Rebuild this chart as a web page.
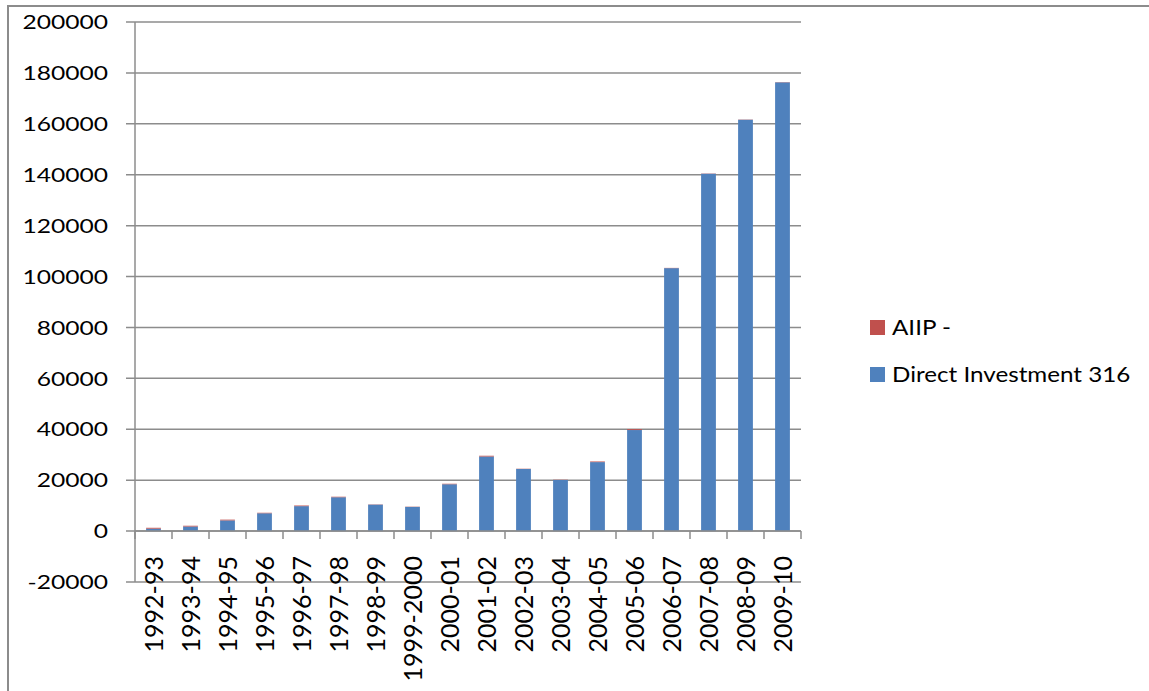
<!DOCTYPE html>
<html>
<head>
<meta charset="utf-8">
<script src="https://cdn.jsdelivr.net/npm/d3@7"></script>
<style>
  body { margin: 0; background: #fff; }
  svg { display: block; font-family: Lato, "Open Sans", sans-serif; }
</style>
</head>
<body>
<div id="chart"></div>
<script>
const years = [
  "1992-93", "1993-94", "1994-95", "1995-96", "1996-97", "1997-98",
  "1998-99", "1999-2000", "2000-01", "2001-02", "2002-03", "2003-04",
  "2004-05", "2005-06", "2006-07", "2007-08", "2008-09", "2009-10",
];
const directInvestment = [
  950, 1800, 4200, 7000, 9800, 13300, 10400, 9500, 18400, 29300,
  24400, 20100, 27100, 39700, 103300, 140400, 161600, 176300,
];
const aiip = [
  350, 300, 300, 200, 250, 200, 100, 100, 200, 300,
  100, 100, 250, 350, 100, 100, 100, 100,
];
const yTicks = d3.range(-20000, 200001, 20000);

const width = 1149;
const height = 691;
const margin = { top: 22, right: 348, bottom: 109, left: 135 };

const svg = d3
  .select("#chart")
  .append("svg")
  .attr("width", width)
  .attr("height", height);

// outer chart frame (runs off the right and bottom edges)
svg
  .append("rect")
  .attr("x", 8)
  .attr("y", 6)
  .attr("width", width + 20)
  .attr("height", height + 20)
  .attr("fill", "none")
  .attr("stroke", "#8c8c8c")
  .attr("stroke-width", 2);

const x = d3
  .scaleBand()
  .domain(years)
  .range([margin.left, width - margin.right])
  .paddingInner(0.6)
  .paddingOuter(0.3);

const y = d3
  .scaleLinear()
  .domain([-20000, 200000])
  .range([height - margin.bottom, margin.top]);

const gridColor = "#8c8c8c";

// gridlines + left ticks
svg
  .append("g")
  .selectAll("line")
  .data(yTicks)
  .join("line")
  .attr("x1", margin.left - 9)
  .attr("x2", width - margin.right)
  .attr("y1", (d) => y(d))
  .attr("y2", (d) => y(d))
  .attr("stroke", gridColor)
  .attr("stroke-width", 1.5);

// y labels (glyphs a bit wider than tall in the original, hence the scale)
svg
  .append("g")
  .selectAll("text")
  .data(yTicks)
  .join("text")
  .attr("transform", (d) => `translate(108, ${y(d)}) scale(1.23, 1)`)
  .attr("dy", "0.36em")
  .attr("text-anchor", "end")
  .attr("font-size", 20)
  .attr("fill", "#000")
  .text((d) => d);

// vertical axis
svg
  .append("line")
  .attr("x1", margin.left)
  .attr("x2", margin.left)
  .attr("y1", y(200000))
  .attr("y2", y(-20000))
  .attr("stroke", gridColor)
  .attr("stroke-width", 1.5);

// stacked bars
const stackData = years.map((yr, i) => ({
  year: yr,
  di: directInvestment[i],
  aiip: aiip[i],
}));

svg
  .append("g")
  .selectAll("rect")
  .data(stackData)
  .join("rect")
  .attr("x", (d) => x(d.year))
  .attr("width", x.bandwidth())
  .attr("y", (d) => y(d.di))
  .attr("height", (d) => y(0) - y(d.di))
  .attr("fill", "#4f81bd");

svg
  .append("g")
  .selectAll("rect")
  .data(stackData)
  .join("rect")
  .attr("x", (d) => x(d.year))
  .attr("width", x.bandwidth())
  .attr("y", (d) => y(d.di + d.aiip))
  .attr("height", (d) => y(d.di) - y(d.di + d.aiip))
  .attr("fill", "#c0504d");

// zero axis with category boundary ticks
const step = x.step();
const bounds = d3.range(years.length + 1).map((i) => margin.left + i * step);

svg
  .append("line")
  .attr("x1", margin.left)
  .attr("x2", width - margin.right)
  .attr("y1", y(0))
  .attr("y2", y(0))
  .attr("stroke", gridColor)
  .attr("stroke-width", 1.5);

svg
  .append("g")
  .selectAll("line")
  .data(bounds)
  .join("line")
  .attr("x1", (d) => d)
  .attr("x2", (d) => d)
  .attr("y1", y(0))
  .attr("y2", y(0) + 8)
  .attr("stroke", gridColor)
  .attr("stroke-width", 1.5);

// category labels, rotated
svg
  .append("g")
  .selectAll("text")
  .data(years)
  .join("text")
  .attr(
    "transform",
    (d) => `translate(${x(d) + x.bandwidth() / 2}, ${y(0) + 25}) rotate(-90)`
  )
  .attr("dy", "0.36em")
  .attr("text-anchor", "end")
  .attr("font-size", 25)
  .attr("fill", "#000")
  .text((d) => d);

// legend
const legend = [
  { name: "AIIP -", color: "#c0504d" },
  { name: "Direct Investment 316", color: "#4f81bd" },
];

const lg = svg
  .append("g")
  .selectAll("g")
  .data(legend)
  .join("g")
  .attr("transform", (d, i) => `translate(870, ${327 + i * 47})`);

lg.append("rect")
  .attr("x", 0)
  .attr("y", -7)
  .attr("width", 15)
  .attr("height", 15)
  .attr("fill", (d) => d.color);

lg.append("text")
  .attr("transform", "translate(22, 0) scale(1.1, 1)")
  .attr("dy", "0.36em")
  .attr("font-size", 22)
  .attr("fill", "#000")
  .text((d) => d.name);
</script>
</body>
</html>
